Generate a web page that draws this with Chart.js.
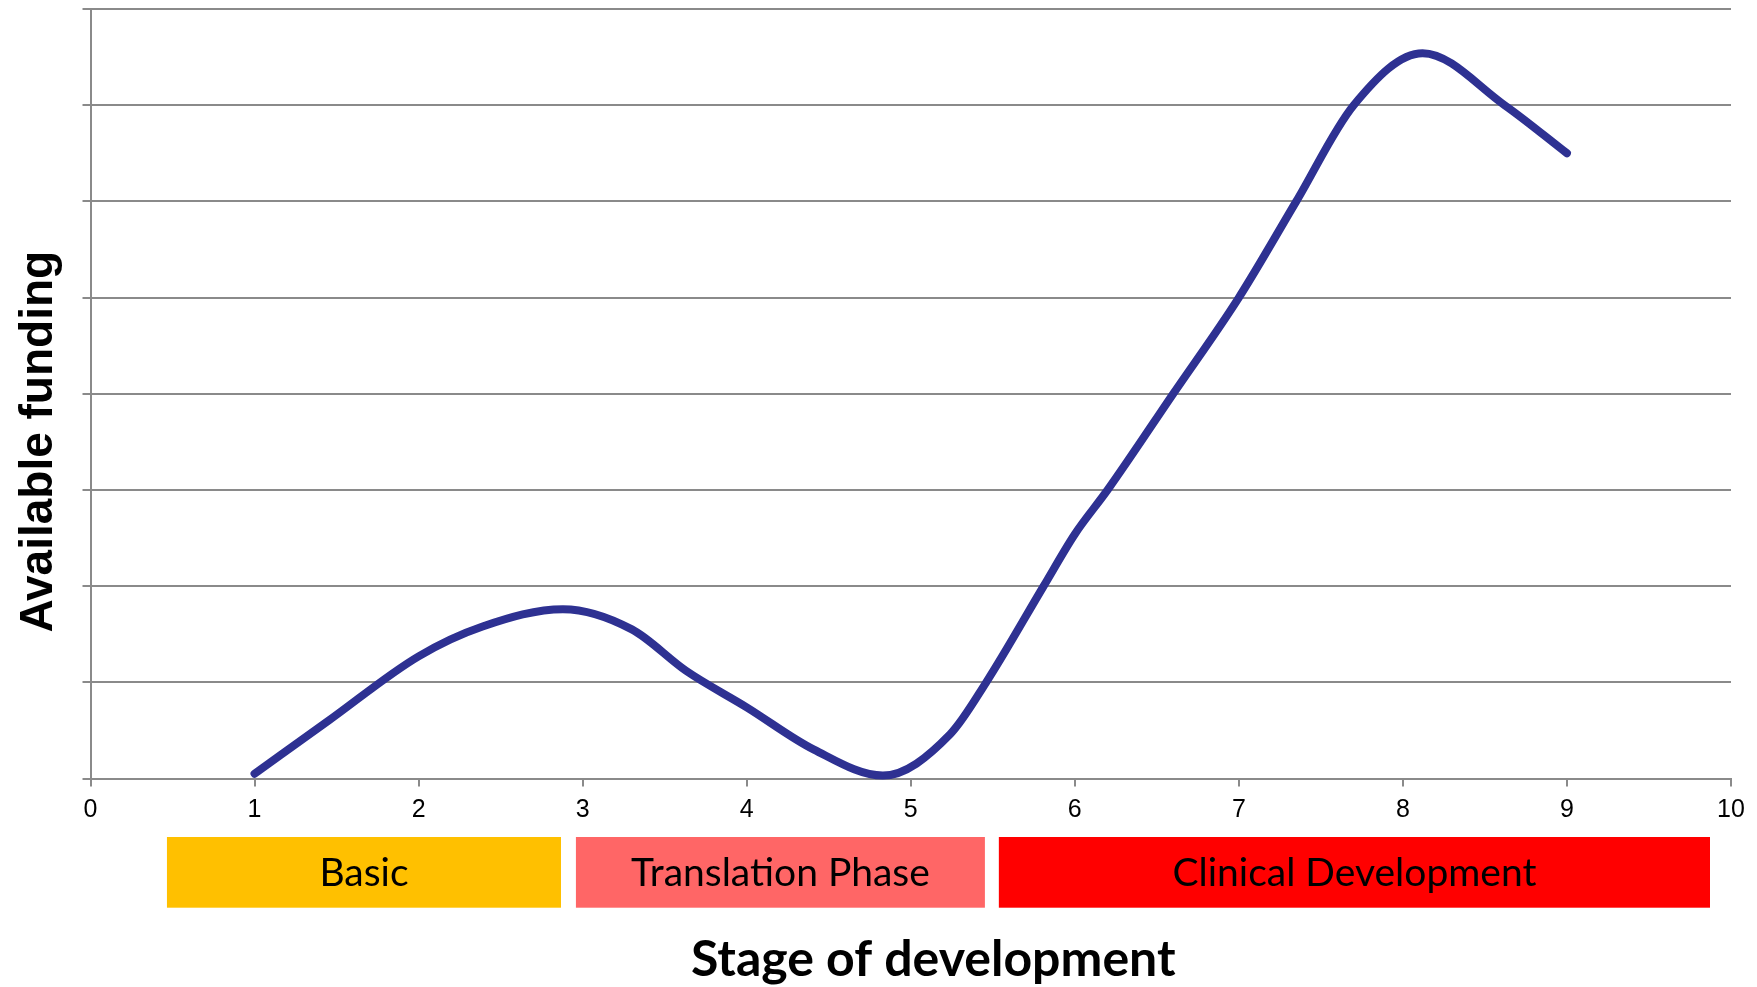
<!DOCTYPE html>
<html>
<head>
<meta charset="utf-8">
<script src="https://cdn.jsdelivr.net/npm/chart.js@4/dist/chart.umd.min.js"></script>
<style>
  html, body { margin: 0; padding: 0; background: #ffffff; }
  #wrap { width: 1757px; height: 987px; position: relative; }
</style>
</head>
<body>
<div id="wrap"><canvas id="c" width="1757" height="987"></canvas></div>
<script>
// ---- data ----
const stageX = [1, 1.45, 2, 2.39, 2.88, 3.3, 3.63, 4, 4.41, 4.83, 5.24, 5.46, 5.81, 6, 6.2, 6.6, 7, 7.35, 7.7, 8.12, 8.62, 9];
const fundingY = [0.05, 0.6, 1.27, 1.58, 1.76, 1.55, 1.12, 0.74, 0.3, 0.03, 0.46, 1.0, 2.0, 2.54, 3.0, 4.0, 5.0, 6.0, 7.0, 7.54, 7.0, 6.5];
const xTickValues = [0, 1, 2, 3, 4, 5, 6, 7, 8, 9, 10];
const phaseNames = ['Basic', 'Translation Phase', 'Clinical Development'];
const phaseStart = [0.466, 2.959, 5.537];
const phaseEnd = [2.868, 5.452, 9.872];
const phaseColors = ['#FFC000', '#FF6666', '#FF0000'];
const xTitle = 'Stage of development';
const yTitle = 'Available funding';

const points = stageX.map((x, i) => ({ x: x, y: fundingY[i] }));

const overlay = {
  id: 'overlay',
  afterDraw(chart) {
    const ctx = chart.ctx;
    const xs = chart.scales.x;
    const area = chart.chartArea;
    ctx.save();
    // phase bars
    const top = area.bottom + 58.5;
    const h = 70.7;
    for (let i = 0; i < phaseNames.length; i++) {
      const x0 = xs.getPixelForValue(phaseStart[i]);
      const x1 = xs.getPixelForValue(phaseEnd[i]);
      ctx.fillStyle = phaseColors[i];
      ctx.fillRect(x0, top, x1 - x0, h);
      ctx.fillStyle = '#000000';
      ctx.font = '39px Lato';
      ctx.textAlign = 'center';
      ctx.textBaseline = 'alphabetic';
      ctx.fillText(phaseNames[i], (x0 + x1) / 2, top + h / 2 + 14);
    }
    // x title
    ctx.fillStyle = '#000000';
    ctx.font = 'bold 50px Lato';
    ctx.textAlign = 'center';
    ctx.textBaseline = 'alphabetic';
    ctx.fillText(xTitle, (area.left + area.right) / 2 + 22.5, 976);
    // y title
    ctx.save();
    ctx.translate(51.7, 441.7);
    ctx.rotate(-Math.PI / 2);
    ctx.font = 'bold 46px "Liberation Sans"';
    ctx.textAlign = 'center';
    ctx.textBaseline = 'alphabetic';
    ctx.fillText(yTitle, 0, 0);
    ctx.restore();
    ctx.restore();
  }
};

function build() {
  new Chart(document.getElementById('c'), {
    type: 'line',
    data: {
      datasets: [{
        data: points,
        borderColor: '#2E3192',
        borderWidth: 8,
        borderCapStyle: 'round',
        borderJoinStyle: 'round',
        pointRadius: 0,
        fill: false,
        cubicInterpolationMode: 'monotone',
        clip: 8
      }]
    },
    options: {
      responsive: false,
      animation: false,
      devicePixelRatio: 1,
      layout: { padding: { top: 9, right: 26, left: 0, bottom: 0 } },
      plugins: { legend: { display: false }, tooltip: { enabled: false }, title: { display: false } },
      scales: {
        x: {
          type: 'linear',
          min: 0, max: 10,
          afterFit(s) { s.height = 987 - 9 - 769.5; },
          afterBuildTicks(s) { s.ticks = xTickValues.map(v => ({ value: v })); },
          border: { display: true, color: '#8a8a8a', width: 2 },
          grid: { display: true, drawOnChartArea: false, drawTicks: true, tickLength: 8, color: '#8a8a8a', lineWidth: 2 },
          ticks: { color: '#000000', font: { family: 'Liberation Sans', size: 25 }, padding: 9, maxRotation: 0, autoSkip: false }
        },
        y: {
          type: 'linear',
          min: 0, max: 8,
          afterFit(s) { s.width = 90.5; },
          border: { display: true, color: '#8a8a8a', width: 2 },
          grid: { display: true, drawTicks: true, tickLength: 8, color: '#8a8a8a', lineWidth: 2 },
          ticks: { display: false, stepSize: 1 }
        }
      }
    },
    plugins: [overlay]
  });
}

Promise.all([
  document.fonts.load('39px Lato'),
  document.fonts.load('bold 50px Lato'),
  document.fonts.load('bold 46px "Liberation Sans"'),
  document.fonts.load('25px "Liberation Sans"')
]).then(build, build);
</script>
</body>
</html>
